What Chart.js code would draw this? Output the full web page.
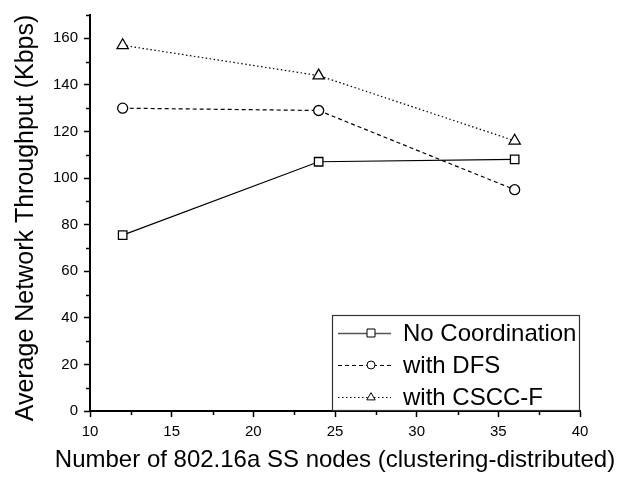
<!DOCTYPE html>
<html>
<head>
<meta charset="utf-8">
<script src="https://cdn.jsdelivr.net/npm/chart.js"></script>
<style>
  html, body { margin: 0; padding: 0; background: #fff; }
  canvas { display: block; }
</style>
</head>
<body>
<canvas id="chart" width="631" height="479"></canvas>
<script>
// values
const nodes = [12, 24, 36];
const noCoordination = [75.5, 107, 108];
const withDFS = [130, 129, 95];
const withCSCCF = [157, 144, 116];

const seriesNames = ['No Coordination', 'with DFS', 'with CSCC-F'];
const xMinorTicks = [12.5, 17.5, 22.5, 27.5, 32.5, 37.5];
const yMinorTicks = [10, 30, 50, 70, 90, 110, 130, 150, 170];
const xTitle = 'Number of 802.16a SS nodes (clustering-distributed)';
const yTitle = 'Average Network Throughput (Kbps)';

const FONT = '"Liberation Sans", Arial, sans-serif';

function points(values) {
    return nodes.map((x, i) => ({ x: x, y: values[i] }));
}

// small marker drawer for the legend samples
function drawMarker(ctx, style, x, y, r) {
    ctx.beginPath();
    if (style === 'rect') {
        ctx.rect(x - r, y - r, 2 * r, 2 * r);
    } else if (style === 'circle') {
        ctx.arc(x, y, r, 0, Math.PI * 2);
    } else {
        const h = r * 1.8;
        ctx.moveTo(x, y - h * 0.6);
        ctx.lineTo(x + r * 1.05, y + h * 0.4);
        ctx.lineTo(x - r * 1.05, y + h * 0.4);
        ctx.closePath();
    }
    ctx.fillStyle = '#fff';
    ctx.fill();
    ctx.setLineDash([]);
    ctx.stroke();
}

// minor ticks, placed through the scales
const minorTicks = {
    id: 'minorTicks',
    afterDraw(chart) {
        const ctx = chart.ctx;
        const xs = chart.scales.x, ys = chart.scales.y;
        ctx.save();
        ctx.strokeStyle = '#000';
        ctx.lineWidth = 1.5;
        ctx.beginPath();
        xMinorTicks.forEach(v => {
            const px = Math.round(xs.getPixelForValue(v)) + 0.5;
            ctx.moveTo(px, xs.top);
            ctx.lineTo(px, xs.top + 4);
        });
        yMinorTicks.forEach(v => {
            const py = Math.round(ys.getPixelForValue(v)) + 0.5;
            ctx.moveTo(ys.right, py);
            ctx.lineTo(ys.right - 4, py);
        });
        ctx.stroke();
        ctx.restore();
    }
};

// axis titles without the maxWidth squeeze chart.js applies
const axisTitles = {
    id: 'axisTitles',
    afterDraw(chart) {
        const ctx = chart.ctx;
        const area = chart.chartArea;
        ctx.save();
        ctx.fillStyle = '#000';
        ctx.textAlign = 'center';
        ctx.textBaseline = 'middle';
        ctx.font = '24px ' + FONT;
        ctx.fillText(xTitle, (area.left + area.right) / 2, 460);
        ctx.translate(26, 218);
        ctx.rotate(-Math.PI / 2);
        ctx.font = '25px ' + FONT;
        ctx.fillText(yTitle, 0, 0);
        ctx.restore();
    }
};

const boxLegend = {
    id: 'boxLegend',
    afterDraw(chart) {
        const ctx = chart.ctx;
        const area = chart.chartArea;
        const left = 332, top = 315;
        const right = area.right, bottom = area.bottom;
        ctx.save();
        ctx.fillStyle = '#fff';
        ctx.fillRect(left, top, right - left, bottom - top);
        ctx.strokeStyle = '#333';
        ctx.lineWidth = 1.2;
        ctx.strokeRect(left + 0.5, top + 0.5, right - left - 1, bottom - top - 1);

        chart.data.datasets.forEach((ds, i) => {
            const cy = top + 18 + i * 32;
            ctx.strokeStyle = i === 0 ? '#555' : '#000';
            ctx.lineWidth = i === 0 ? 1.6 : 1;
            ctx.setLineDash(ds.borderDash || []);
            ctx.beginPath();
            ctx.moveTo(338, cy + 0.5);
            ctx.lineTo(391, cy + 0.5);
            ctx.stroke();
            ctx.strokeStyle = '#000';
            ctx.lineWidth = 1;
            drawMarker(ctx, ds.pointStyle, 371, cy, 4);

            ctx.fillStyle = '#000';
            ctx.font = '24px ' + FONT;
            ctx.textAlign = 'left';
            ctx.textBaseline = 'middle';
            ctx.fillText(ds.label, 403, cy + 1);
        });
        ctx.restore();
    }
};

new Chart(document.getElementById('chart'), {
    type: 'line',
    data: {
        datasets: [{
            label: seriesNames[0],
            data: points(noCoordination),
            borderColor: '#000',
            borderWidth: 1.2,
            pointStyle: 'rect',
            pointRadius: 6,
            pointBorderWidth: 1.3,
            pointBackgroundColor: '#fff',
            pointBorderColor: '#000',
            tension: 0
        }, {
            label: seriesNames[1],
            data: points(withDFS),
            borderColor: '#000',
            borderWidth: 1.2,
            borderDash: [4, 3],
            pointStyle: 'circle',
            pointRadius: 5,
            pointBorderWidth: 1.3,
            pointBackgroundColor: '#fff',
            pointBorderColor: '#000',
            tension: 0
        }, {
            label: seriesNames[2],
            data: points(withCSCCF),
            borderColor: '#000',
            borderWidth: 1.2,
            borderDash: [1.5, 2.5],
            pointStyle: 'triangle',
            pointRadius: 6.5,
            pointBorderWidth: 1.3,
            pointBackgroundColor: '#fff',
            pointBorderColor: '#000',
            tension: 0
        }]
    },
    options: {
        responsive: false,
        animation: false,
        layout: { padding: { top: 13, right: 51, left: 0, bottom: 0 } },
        plugins: {
            legend: { display: false },
            tooltip: { enabled: false }
        },
        scales: {
            x: {
                type: 'linear',
                min: 10,
                max: 40,
                afterFit: scale => { scale.height = 68; },
                border: { color: '#000', width: 2 },
                grid: { drawOnChartArea: false, drawTicks: true, tickLength: 6, tickWidth: 1.5, tickColor: '#000' },
                ticks: { stepSize: 5, color: '#000', padding: 6, maxRotation: 0, font: { family: FONT, size: 15 } },
                title: { display: false }
            },
            y: {
                min: 0,
                max: 170,
                afterFit: scale => { scale.width = 90; },
                border: { color: '#000', width: 2 },
                grid: { drawOnChartArea: false, drawTicks: true, tickLength: 6, tickWidth: 1.5, tickColor: '#000' },
                ticks: { stepSize: 20, includeBounds: false, color: '#000', padding: 6, font: { family: FONT, size: 15 } },
                title: { display: false }
            }
        }
    },
    plugins: [minorTicks, axisTitles, boxLegend]
});
</script>
</body>
</html>
